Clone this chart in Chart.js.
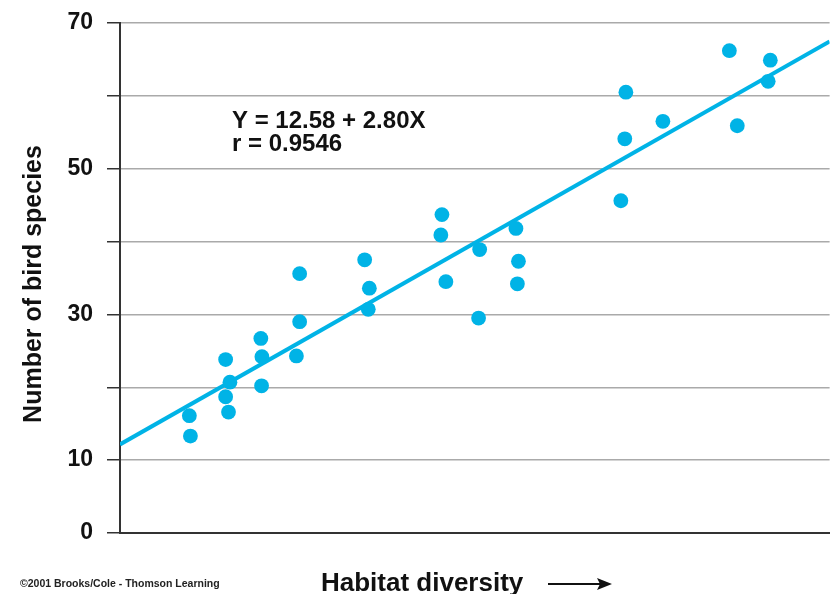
<!DOCTYPE html>
<html>
<head>
<meta charset="utf-8">
<script src="https://cdn.jsdelivr.net/npm/chart.js@4"></script>
<style>
  html, body { margin: 0; padding: 0; background: #ffffff; }
  canvas { display: block; }
</style>
</head>
<body>
<canvas id="chart" width="837" height="594"></canvas>
<script>
// Observations: habitat diversity (x) and number of bird species (y)
const habitatDiversity = [
  1.81, 1.78, 2.87, 2.79, 2.91, 2.79, 3.79, 3.80, 3.77, 4.76,
  4.85, 4.85, 6.66, 6.79, 6.76, 8.81, 8.78, 8.92, 9.86, 9.83,
  10.87, 10.94, 10.91, 13.79, 13.90, 13.93, 14.96, 16.81, 17.03, 17.89,
  17.95
];
const birdSpecies = [
  13.3, 16.1, 16.6, 18.7, 20.7, 23.8, 20.2, 24.2, 26.7, 24.3,
  29.0, 35.6, 37.5, 33.6, 30.7, 43.7, 40.9, 34.5, 38.9, 29.5,
  41.8, 37.3, 34.2, 45.6, 54.1, 60.5, 56.5, 66.2, 55.9, 62.0,
  64.9
];

// Labelled y ticks (minor ticks at 20, 40, 60 carry no label)
const labelledTicks = [0, 10, 30, 50, 70];

// Fitted regression: Y = a + bX, correlation r
const intercept = 12.58;
const slope = 2.80;
const rValue = 0.9546;
const fitRange = [-0.15, 19.6];

const CYAN = '#00b3e6';
const INK = '#111111';
const FONT = '"Liberation Sans", Arial, Helvetica, sans-serif';

const scatterPoints = habitatDiversity.map((x, i) => ({ x, y: birdSpecies[i] }));
const fitLine = fitRange.map(x => ({ x, y: intercept + slope * x }));

// Free text: equation, axis titles with arrow, credit line
const textPlugin = {
  id: 'figureText',
  afterDraw(chart) {
    const ctx = chart.ctx;
    ctx.save();
    ctx.fillStyle = INK;
    ctx.textAlign = 'left';
    ctx.textBaseline = 'alphabetic';

    // Regression equation
    ctx.font = 'bold 24px ' + FONT;
    ctx.fillText('Y = ' + intercept.toFixed(2) + ' + ' + slope.toFixed(2) + 'X', 232, 128);
    ctx.fillText('r = ' + rValue.toFixed(4), 232, 151);

    // Y axis title
    ctx.save();
    ctx.translate(41, 284);
    ctx.rotate(-Math.PI / 2);
    ctx.textAlign = 'center';
    ctx.font = 'bold 25px ' + FONT;
    ctx.fillText('Number of bird species', 0, 0);
    ctx.restore();

    // X axis title with arrow
    ctx.font = 'bold 26px ' + FONT;
    ctx.fillText('Habitat diversity', 321, 591);
    ctx.strokeStyle = INK;
    ctx.lineWidth = 2;
    ctx.beginPath();
    ctx.moveTo(548, 584);
    ctx.lineTo(600, 584);
    ctx.stroke();
    ctx.beginPath();
    ctx.moveTo(612, 584);
    ctx.lineTo(597, 578);
    ctx.lineTo(600, 584);
    ctx.lineTo(597, 590);
    ctx.closePath();
    ctx.fill();

    // Credit line
    ctx.font = 'bold 10.5px ' + FONT;
    ctx.fillStyle = '#222222';
    ctx.fillText('\u00A92001 Brooks/Cole - Thomson Learning', 20, 587);
    ctx.restore();
  }
};

new Chart(document.getElementById('chart'), {
  data: {
    datasets: [
      {
        type: 'scatter',
        data: scatterPoints,
        backgroundColor: CYAN,
        borderWidth: 0,
        pointRadius: 7.4,
        pointHoverRadius: 7.4,
        order: 0
      },
      {
        type: 'line',
        data: fitLine,
        borderColor: CYAN,
        borderWidth: 4,
        pointRadius: 0,
        fill: false,
        order: 1
      }
    ]
  },
  options: {
    responsive: false,
    animation: false,
    devicePixelRatio: 1,
    layout: { padding: { top: 23, right: 5, left: 0, bottom: 0 } },
    plugins: {
      legend: { display: false },
      tooltip: { enabled: false }
    },
    scales: {
      x: {
        type: 'linear',
        min: fitRange[0],
        max: fitRange[1],
        ticks: { display: false },
        grid: { display: false },
        border: { display: true, color: '#333333', width: 2 },
        afterFit(scale) {
          scale.height = 61;
          scale.paddingLeft = 0;
          scale.paddingRight = 0;
        }
      },
      y: {
        type: 'linear',
        min: 0,
        max: 70,
        ticks: {
          stepSize: 10,
          padding: 14,
          color: INK,
          font: { family: FONT, size: 23, weight: 'bold' },
          callback: v => (labelledTicks.includes(v) ? String(v) : '')
        },
        grid: {
          color: '#aaaaaa',
          lineWidth: 1.5,
          tickColor: '#333333',
          tickLength: 13,
          drawTicks: true
        },
        border: { display: true, color: '#333333', width: 2 },
        afterFit(scale) {
          scale.width = 120;
          scale.paddingTop = 0;
          scale.paddingBottom = 0;
        }
      }
    }
  },
  plugins: [textPlugin]
});
</script>
</body>
</html>
